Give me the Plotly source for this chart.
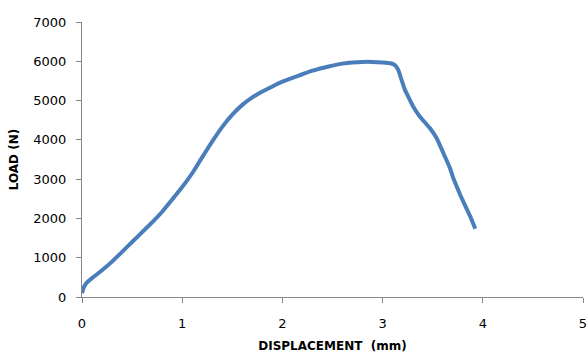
import plotly.graph_objects as go

displacement = [0.0, 0.02, 0.05, 0.1, 0.2, 0.3, 0.4, 0.5, 0.6, 0.7, 0.8, 0.9, 1.0, 1.1, 1.2, 1.3,
                1.4, 1.5, 1.6, 1.7, 1.8, 1.9, 2.0, 2.1, 2.2, 2.3, 2.4, 2.5, 2.6, 2.7, 2.8, 2.9,
                3.0, 3.08, 3.124, 3.157, 3.19, 3.224, 3.24, 3.306, 3.373, 3.473, 3.54, 3.607,
                3.673, 3.706, 3.774, 3.874, 3.925]
load = [100, 260, 370, 480, 680, 900, 1150, 1400, 1650, 1900, 2170, 2480, 2800, 3150, 3560, 3960,
        4330, 4640, 4890, 5080, 5230, 5360, 5480, 5580, 5670, 5760, 5830, 5890, 5940, 5970, 5985, 5985,
        5970, 5950, 5901, 5774, 5520, 5266, 5183, 4843, 4590, 4294, 4040, 3660,
        3279, 3025, 2601, 2051, 1735]

x_ticks = [0, 1, 2, 3, 4, 5]
y_ticks = [0, 1000, 2000, 3000, 4000, 5000, 6000, 7000]

fig = go.Figure()
fig.add_trace(go.Scatter(x=displacement, y=load, mode="lines",
                         line=dict(color="#4a7ebb", width=4, shape="spline", smoothing=0.3),
                         showlegend=False))

axis_common = dict(showgrid=False, zeroline=False, showline=True, linecolor="#868686", linewidth=1,
                   ticks="outside", ticklen=5, tickcolor="#868686", automargin=False,
                   tickfont=dict(family="DejaVu Sans", size=13, color="#000000"))

fig.update_xaxes(range=[0, 5], tickvals=x_ticks, ticklabelstandoff=9, ticklabeloverflow="allow",
                 **axis_common,
                 title=dict(text="<b>DISPLACEMENT  (mm)</b>", font=dict(family="DejaVu Sans", size=12, color="#000"),
                            standoff=12))
fig.update_yaxes(range=[0, 7000], tickvals=y_ticks, ticklabelstandoff=7, **axis_common,
                 title=dict(text="<b>LOAD (N)</b>", font=dict(family="DejaVu Sans", size=12, color="#000"),
                            standoff=12))

fig.update_layout(width=587, height=354, margin=dict(l=82, r=4, t=22, b=57),
                  plot_bgcolor="white", paper_bgcolor="white")

fig.write_html("out.html")
